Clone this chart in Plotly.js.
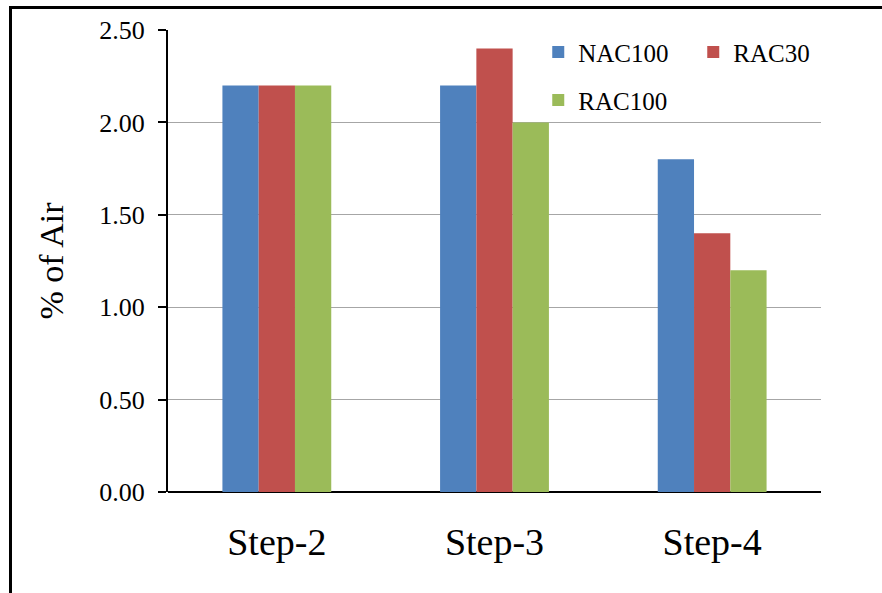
<!DOCTYPE html>
<html>
<head>
<meta charset="utf-8">
<script src="https://cdn.plot.ly/plotly-3.0.1.min.js"></script>
<style>
  html, body { margin: 0; padding: 0; background: #fff; }
  #wrap { position: relative; width: 882px; height: 593px; overflow: hidden; }
  #chart { position: absolute; left: 0; top: 0; width: 882px; height: 593px; }
  #frame {
    position: absolute; left: 9px; top: 6px; width: 900px; height: 620px;
    border-left: 3px solid #000; border-top: 3px solid #000;
    pointer-events: none;
  }
</style>
</head>
<body>
<div id="wrap">
  <div id="chart"></div>
  <div id="frame"></div>
</div>
<script>
// Air content per mixing step
const steps = ["Step-2", "Step-3", "Step-4"];
const nac100 = [2.2, 2.2, 1.8];
const rac30 = [2.2, 2.4, 1.4];
const rac100 = [2.2, 2.0, 1.2];
const yTicks = [0, 0.5, 1.0, 1.5, 2.0, 2.5];

const serif = "Liberation Serif, Times New Roman, serif";

const traces = [
  { type: "bar", name: "NAC100", x: steps, y: nac100, marker: { color: "#4F81BD" }, legend: "legend" },
  { type: "bar", name: "RAC30", x: steps, y: rac30, marker: { color: "#C0504D" }, legend: "legend" },
  { type: "bar", name: "RAC100", x: steps, y: rac100, marker: { color: "#9BBB59" }, legend: "legend2" }
];

const legendBase = {
  orientation: "h",
  xanchor: "left",
  yanchor: "middle",
  bgcolor: "rgba(0,0,0,0)",
  font: { family: serif, size: 25, color: "#000" },
  itemclick: false,
  entrywidth: 110,
  tracegroupgap: 0
};

const layout = {
  width: 882,
  height: 593,
  margin: { l: 168, r: 61, t: 30, b: 101 },
  paper_bgcolor: "#fff",
  plot_bgcolor: "#fff",
  barmode: "group",
  bargap: 0.5,
  bargroupgap: 0,
  showlegend: true,
  legend: Object.assign({}, legendBase, { x: 0.567, y: 0.952 }),
  legend2: Object.assign({}, legendBase, { x: 0.567, y: 0.848 }),
  xaxis: {
    type: "category",
    showgrid: false,
    showline: false,
    ticks: "",
    ticklabelstandoff: 24,
    tickfont: { family: serif, size: 38, color: "#000" },
    zeroline: false
  },
  yaxis: {
    range: [0, 2.5],
    tickvals: yTicks,
    tickformat: ".2f",
    showline: true,
    linecolor: "#000",
    linewidth: 2,
    ticks: "outside",
    ticklen: 8,
    tickwidth: 2,
    tickcolor: "#000",
    ticklabelstandoff: 8,
    tickfont: { family: serif, size: 26, color: "#000" },
    showgrid: true,
    gridcolor: "#a6a6a6",
    gridwidth: 1,
    zeroline: true,
    zerolinecolor: "#000",
    zerolinewidth: 2,
    title: { text: "% of Air", font: { family: serif, size: 34, color: "#000" }, standoff: 25 }
  }
};

Plotly.newPlot("chart", traces, layout, { displayModeBar: false, staticPlot: true });
</script>
</body>
</html>
